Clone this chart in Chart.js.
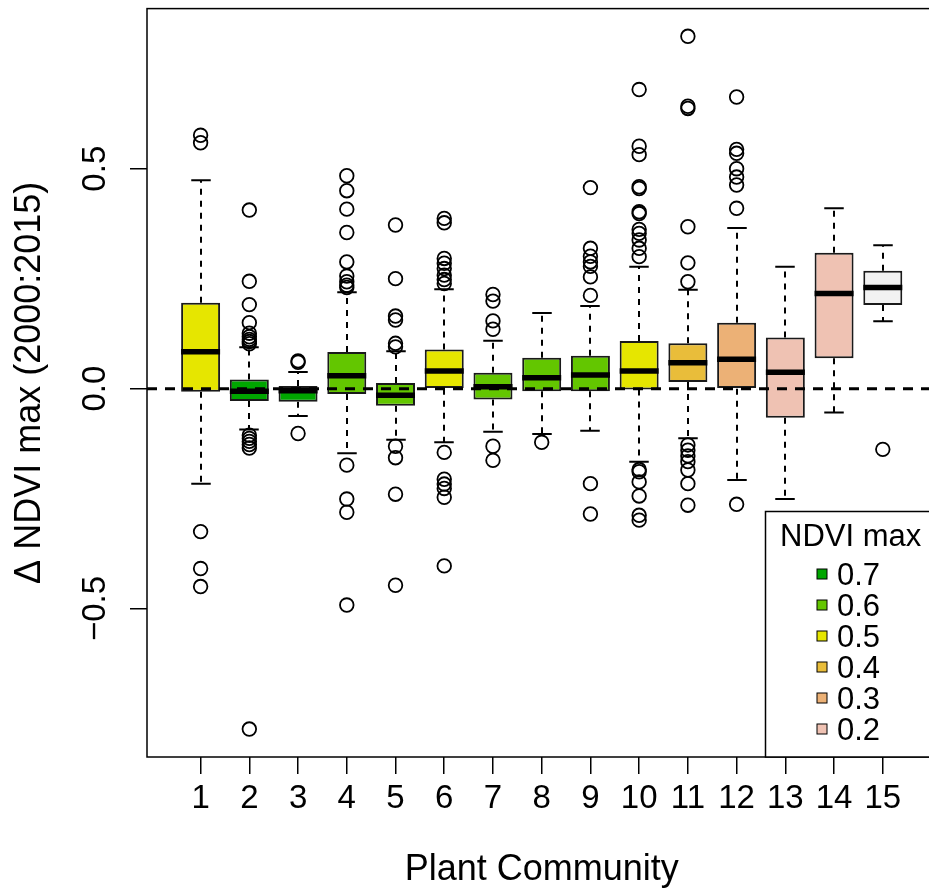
<!DOCTYPE html>
<html>
<head>
<meta charset="utf-8">
<script src="https://cdn.jsdelivr.net/npm/chart.js@4"></script>
<style>
  html, body { margin: 0; padding: 0; background: #fff; overflow: hidden; }
  #wrap { width: 929px; height: 890px; overflow: hidden; }
  canvas { display: block; }
</style>
</head>
<body>
<div id="wrap"><canvas id="box" width="945" height="890" style="width:945px;height:890px"></canvas></div>
<script>
(() => {
  'use strict';

  // categories
  const communities = ['1', '2', '3', '4', '5', '6', '7', '8', '9', '10', '11', '12', '13', '14', '15'];

  // box statistics per community
  const whiskerLow  = [-0.216, -0.093, -0.062, -0.147, -0.116, -0.122, -0.098, -0.103, -0.096, -0.166, -0.113, -0.208, -0.251, -0.054, 0.153];
  const lowerQuart  = [-0.007, -0.028, -0.030, -0.012, -0.039, 0.000, -0.025, -0.006, -0.006, -0.002, 0.015, 0.000, -0.066, 0.069, 0.190];
  const medians     = [0.084, -0.006, -0.005, 0.029, -0.015, 0.040, 0.004, 0.025, 0.031, 0.040, 0.059, 0.067, 0.037, 0.216, 0.230];
  const upperQuart  = [0.195, 0.021, 0.006, 0.083, 0.013, 0.089, 0.036, 0.070, 0.075, 0.108, 0.103, 0.150, 0.116, 0.309, 0.268];
  const whiskerHigh = [0.474, 0.094, 0.038, 0.219, 0.085, 0.226, 0.109, 0.172, 0.188, 0.277, 0.225, 0.365, 0.277, 0.410, 0.326];

  // outliers per community
  const outliers = [
    [0.576, 0.559, -0.325, -0.409, -0.450],
    [0.406, 0.244, 0.191, 0.150, 0.126, 0.118, 0.112, 0.107, 0.102, -0.106, -0.113, -0.120, -0.127, -0.135, -0.774],
    [0.063, 0.060, -0.102],
    [0.484, 0.450, 0.408, 0.355, 0.288, 0.256, 0.243, 0.235, 0.230, -0.174, -0.251, -0.281, -0.492],
    [0.372, 0.250, 0.165, 0.156, 0.103, 0.095, -0.131, -0.157, -0.240, -0.447],
    [0.387, 0.377, 0.296, 0.285, 0.273, 0.258, 0.248, 0.239, -0.145, -0.206, -0.217, -0.227, -0.247, -0.403],
    [0.214, 0.199, 0.154, 0.135, -0.131, -0.163],
    [-0.122],
    [0.457, 0.319, 0.301, 0.288, 0.278, 0.254, 0.212, -0.216, -0.285],
    [0.680, 0.551, 0.532, 0.459, 0.455, 0.402, 0.398, 0.362, 0.353, 0.338, 0.319, 0.300, -0.184, -0.189, -0.212, -0.244, -0.288, -0.299],
    [0.801, 0.642, 0.637, 0.368, 0.286, 0.243, -0.128, -0.140, -0.153, -0.166, -0.185, -0.216, -0.265],
    [0.663, 0.544, 0.535, 0.500, 0.481, 0.463, 0.410, -0.263],
    [],
    [],
    [-0.138]
  ];

  // NDVI max class colours (terrain palette) and class of each community
  const terrainColors = ['#00A600', '#63C600', '#E6E600', '#E9BD3A', '#ECB176', '#EFC2B3', '#F2F2F2'];
  const communityClass = [2, 0, 0, 1, 1, 2, 1, 1, 1, 2, 3, 4, 5, 5, 6];

  // legend entries
  const legendTitle = 'NDVI max';
  const legendLabels = ['0.7', '0.6', '0.5', '0.4', '0.3', '0.2'];

  // tick labels
  const xTickValues = communities.map((c, i) => i + 1);
  const yTickValues = [-0.5, 0, 0.5];

  const FONT = '"Liberation Sans", Arial, Helvetica, sans-serif';

  const boxData = communities.map((c, i) => ({ x: i + 1, y: [lowerQuart[i], upperQuart[i]] }));
  const pointData = [];
  outliers.forEach((list, i) => {
    list.forEach((v) => pointData.push({ x: i + 1, y: v }));
  });

  // whiskers, medians, zero line, frame and legend
  const boxPlugin = {
    id: 'boxExtras',
    beforeDatasetsDraw(chart) {
      const ctx = chart.ctx;
      const xs = chart.scales.x;
      const ys = chart.scales.y;
      const half = xs.getPixelForValue(1.4) - xs.getPixelForValue(1);
      ctx.save();
      ctx.strokeStyle = '#000';
      ctx.lineWidth = 2;
      communities.forEach((c, i) => {
        const px = Math.round(xs.getPixelForValue(i + 1));
        const top = ys.getPixelForValue(whiskerHigh[i]);
        const bot = ys.getPixelForValue(whiskerLow[i]);
        const q3 = ys.getPixelForValue(upperQuart[i]);
        const q1 = ys.getPixelForValue(lowerQuart[i]);
        ctx.setLineDash([6, 6]);
        ctx.beginPath();
        ctx.moveTo(px, q3);
        ctx.lineTo(px, top);
        ctx.moveTo(px, q1);
        ctx.lineTo(px, bot);
        ctx.stroke();
        ctx.setLineDash([]);
        ctx.beginPath();
        ctx.moveTo(px - half / 2, top);
        ctx.lineTo(px + half / 2, top);
        ctx.moveTo(px - half / 2, bot);
        ctx.lineTo(px + half / 2, bot);
        ctx.stroke();
      });
      ctx.restore();
    },
    afterDatasetsDraw(chart) {
      const ctx = chart.ctx;
      const xs = chart.scales.x;
      const ys = chart.scales.y;
      const area = chart.chartArea;
      const half = xs.getPixelForValue(1.4) - xs.getPixelForValue(1);
      ctx.save();

      // medians
      ctx.strokeStyle = '#000';
      ctx.lineWidth = 5.5;
      communities.forEach((c, i) => {
        const px = xs.getPixelForValue(i + 1);
        const py = ys.getPixelForValue(medians[i]);
        ctx.beginPath();
        ctx.moveTo(px - half, py);
        ctx.lineTo(px + half, py);
        ctx.stroke();
      });

      // dashed line at zero
      const y0 = ys.getPixelForValue(0);
      ctx.lineWidth = 3;
      ctx.setLineDash([10, 8]);
      ctx.beginPath();
      ctx.moveTo(area.left, y0);
      ctx.lineTo(area.right, y0);
      ctx.stroke();
      ctx.setLineDash([]);

      // plot frame
      ctx.lineWidth = 1.5;
      ctx.strokeRect(area.left, area.top, area.right - area.left, area.bottom - area.top);

      // legend box
      const lx = 765.5;
      const ly = 511.5;
      ctx.fillStyle = '#fff';
      ctx.fillRect(lx, ly, area.right - lx + 20, area.bottom - ly);
      ctx.strokeRect(lx, ly, area.right - lx + 20, area.bottom - ly);
      ctx.fillStyle = '#000';
      ctx.font = '31px ' + FONT;
      ctx.textAlign = 'left';
      ctx.textBaseline = 'alphabetic';
      ctx.fillText(legendTitle, 780, 546);
      legendLabels.forEach((lab, k) => {
        const cy = 574 + k * 31;
        ctx.fillStyle = terrainColors[k];
        ctx.fillRect(817, cy - 5, 10, 10);
        ctx.lineWidth = 1;
        ctx.strokeRect(817, cy - 5, 10, 10);
        ctx.fillStyle = '#000';
        ctx.fillText(lab, 837, cy + 11);
      });
      ctx.restore();
    }
  };

  new Chart(document.getElementById('box'), {
    type: 'bar',
    data: {
      datasets: [
        {
          type: 'bar',
          data: boxData,
          backgroundColor: communityClass.map((k) => terrainColors[k]),
          borderColor: '#1a1a1a',
          borderWidth: 2,
          borderSkipped: false,
          barPercentage: 0.8,
          categoryPercentage: 1.0,
          order: 2
        },
        {
          type: 'scatter',
          data: pointData,
          pointRadius: 6.8,
          pointBackgroundColor: 'rgba(0,0,0,0)',
          pointBorderColor: '#000',
          pointBorderWidth: 1.8,
          order: 1
        }
      ]
    },
    options: {
      responsive: false,
      devicePixelRatio: 1,
      animation: false,
      layout: { padding: { top: 8, right: 7, bottom: 0, left: 0 } },
      plugins: {
        legend: { display: false },
        tooltip: { enabled: false }
      },
      scales: {
        x: {
          type: 'linear',
          min: -0.1,
          max: 16.1,
          offset: false,
          afterBuildTicks: (scale) => { scale.ticks = xTickValues.map((v) => ({ value: v })); },
          afterFit: (scale) => {
            scale.height = 133;
            scale.paddingLeft = 0;
            scale.paddingRight = 0;
          },
          grid: { offset: false, drawOnChartArea: false, drawTicks: true, tickLength: 17, color: '#000', lineWidth: 1.5 },
          border: { display: false },
          ticks: {
            color: '#000',
            font: { family: FONT, size: 33 },
            padding: 5,
            autoSkip: false,
            maxRotation: 0,
            callback: (v) => communities[v - 1]
          },
          title: {
            display: true,
            text: 'Plant Community',
            color: '#000',
            font: { family: FONT, size: 36, lineHeight: 1.0 },
            padding: { top: 0, bottom: 2 }
          }
        },
        y: {
          min: -0.8375,
          max: 0.864,
          afterBuildTicks: (scale) => { scale.ticks = yTickValues.map((v) => ({ value: v })); },
          afterFit: (scale) => {
            scale.width = 147;
            scale.paddingTop = 0;
            scale.paddingBottom = 0;
          },
          grid: { drawOnChartArea: false, drawTicks: true, tickLength: 17, color: '#000', lineWidth: 1.5 },
          border: { display: false },
          ticks: {
            color: '#000',
            font: { family: FONT, size: 33 },
            padding: 2,
            minRotation: 90,
            maxRotation: 90,
            crossAlign: 'center',
            callback: (v) => (v < 0 ? '\u2212' + Math.abs(v).toFixed(1) : v.toFixed(1))
          },
          title: {
            display: true,
            text: 'Δ NDVI max (2000:2015)',
            color: '#000',
            font: { family: FONT, size: 36 },
            padding: { top: 8, bottom: 0 }
          }
        }
      }
    },
    plugins: [boxPlugin]
  });
})();
</script>
</body>
</html>
